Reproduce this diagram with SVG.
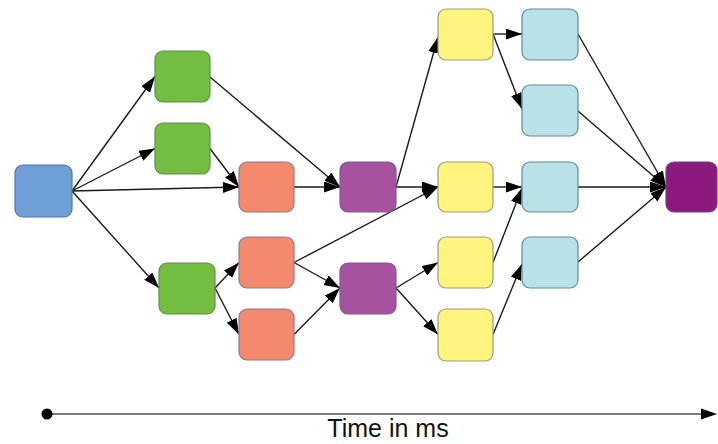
<svg xmlns="http://www.w3.org/2000/svg" width="718" height="444" viewBox="0 0 718 444">
  <defs>
    <style>
      .node { stroke-width: 1.2; }
      .blue { fill: #6e9fd6; stroke: #4f76a8; }
      .green { fill: #73bd41; stroke: #5e8f4f; }
      .orange { fill: #f4896e; stroke: #8a7c94; }
      .purple { fill: #a6529f; stroke: #7a5a9a; }
      .yellow { fill: #fff57e; stroke: #9b9b78; }
      .cyan { fill: #b8e2e6; stroke: #5f86a8; }
      .plum { fill: #8c1a7e; stroke: #7a3f8a; }
      .edge { fill: none; stroke: #1a1a1a; stroke-width: 1.4; marker-end: url(#arrow); }
      .axis { fill: none; stroke: #7a7a7a; stroke-width: 2; }
      .label { font-family: "Liberation Sans", Arial, sans-serif; font-size: 25px; fill: #111; }
    </style>
    <marker id="arrow" markerUnits="userSpaceOnUse" markerWidth="17" markerHeight="12" refX="16" refY="5.5" orient="auto">
      <path d="M0,0 L16,5.5 L0,11 z" fill="#000"/>
    </marker>
  </defs>

  <!-- dependency edges -->
  <g id="connectors">
    <line class="edge" x1="72" y1="191" x2="155" y2="76.5"/>
    <line class="edge" x1="72" y1="191" x2="155" y2="148.5"/>
    <line class="edge" x1="72" y1="191" x2="239" y2="187"/>
    <line class="edge" x1="72" y1="191" x2="159" y2="288"/>
    <line class="edge" x1="210" y1="77" x2="340" y2="187"/>
    <line class="edge" x1="210" y1="148.5" x2="239" y2="187"/>
    <line class="edge" x1="294" y1="187" x2="340" y2="187"/>
    <line class="edge" x1="215" y1="288" x2="239" y2="262.5"/>
    <line class="edge" x1="215" y1="288" x2="239" y2="334.5"/>
    <line class="edge" x1="294" y1="262.5" x2="438" y2="187"/>
    <line class="edge" x1="294" y1="262.5" x2="340" y2="288"/>
    <line class="edge" x1="294" y1="334.5" x2="340" y2="288"/>
    <line class="edge" x1="396" y1="187" x2="438" y2="37"/>
    <line class="edge" x1="396" y1="187" x2="438" y2="187"/>
    <line class="edge" x1="396" y1="288" x2="438" y2="262.5"/>
    <line class="edge" x1="396" y1="288" x2="438" y2="334.5"/>
    <line class="edge" x1="493" y1="34" x2="522" y2="34"/>
    <line class="edge" x1="493" y1="34" x2="522" y2="109"/>
    <line class="edge" x1="493" y1="187" x2="522" y2="187"/>
    <line class="edge" x1="493" y1="262.5" x2="522" y2="188"/>
    <line class="edge" x1="493" y1="334.5" x2="522" y2="264"/>
    <line class="edge" x1="578" y1="34" x2="666" y2="187"/>
    <line class="edge" x1="578" y1="111" x2="666" y2="187"/>
    <line class="edge" x1="578" y1="187" x2="666" y2="187"/>
    <line class="edge" x1="578" y1="262" x2="666" y2="187"/>
  </g>

  <!-- task nodes -->
  <g id="start"><rect class="node blue" x="15" y="165" width="57" height="52" rx="8"/></g>
  <g id="g1"><rect class="node green" x="155" y="51" width="55" height="51" rx="8"/></g>
  <g id="g2"><rect class="node green" x="155" y="123" width="55" height="51" rx="8"/></g>
  <g id="g3"><rect class="node green" x="159" y="263" width="56" height="51" rx="8"/></g>
  <g id="o1"><rect class="node orange" x="239" y="162" width="55" height="50" rx="8"/></g>
  <g id="o2"><rect class="node orange" x="239" y="237" width="55" height="51" rx="8"/></g>
  <g id="o3"><rect class="node orange" x="239" y="309" width="55" height="51" rx="8"/></g>
  <g id="p1"><rect class="node purple" x="340" y="162" width="56" height="50" rx="8"/></g>
  <g id="p2"><rect class="node purple" x="340" y="263" width="56" height="51" rx="8"/></g>
  <g id="y1"><rect class="node yellow" x="438" y="9" width="55" height="51" rx="8"/></g>
  <g id="y2"><rect class="node yellow" x="438" y="162" width="55" height="50" rx="8"/></g>
  <g id="y3"><rect class="node yellow" x="438" y="237" width="55" height="51" rx="8"/></g>
  <g id="y4"><rect class="node yellow" x="438" y="309" width="55" height="52" rx="8"/></g>
  <g id="c1"><rect class="node cyan" x="522" y="9" width="56" height="51" rx="8"/></g>
  <g id="c2"><rect class="node cyan" x="522" y="85" width="56" height="51" rx="8"/></g>
  <g id="c3"><rect class="node cyan" x="522" y="162" width="56" height="50" rx="8"/></g>
  <g id="c4"><rect class="node cyan" x="522" y="237" width="56" height="51" rx="8"/></g>
  <g id="end"><rect class="node plum" x="666" y="162" width="51" height="50" rx="8"/></g>

  <!-- time axis -->
  <g id="time-axis">
    <line class="axis" x1="47" y1="414" x2="703" y2="414"/>
    <circle cx="47" cy="414" r="5.5" fill="#000"/>
    <path d="M701,408.5 L717,414 L701,419.5 z" fill="#000"/>
    <text class="label" x="388" y="437" text-anchor="middle">Time in ms</text>
  </g>
</svg>
